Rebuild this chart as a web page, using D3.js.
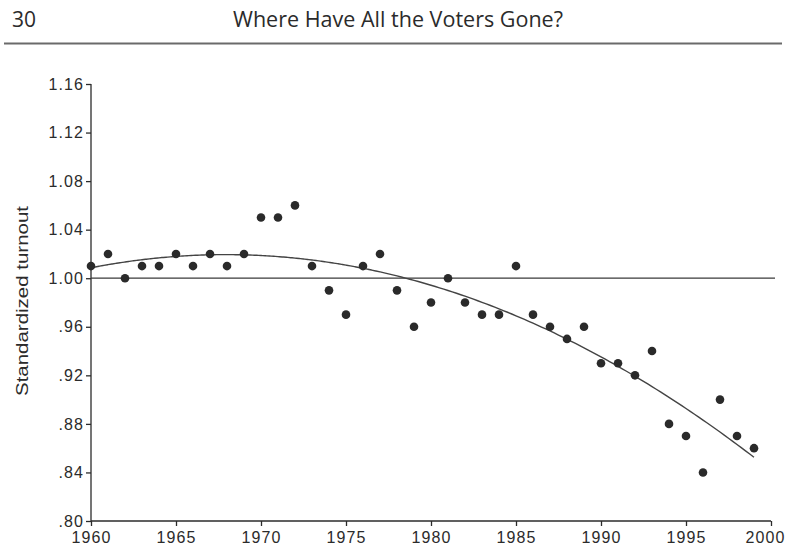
<!DOCTYPE html>
<html>
<head>
<meta charset="utf-8">
<script src="https://cdn.jsdelivr.net/npm/d3@7"></script>
<style>
  html, body { margin: 0; padding: 0; background: #fff; }
  svg { display: block; }
</style>
</head>
<body>
<svg id="chart" width="787" height="553"></svg>
<script>
// Election years and standardized turnout
const years = [1960,1961,1962,1963,1964,1965,1966,1967,1968,1969,
               1970,1971,1972,1973,1974,1975,1976,1977,1978,1979,
               1980,1981,1982,1983,1984,1985,1986,1987,1988,1989,
               1990,1991,1992,1993,1994,1995,1996,1997,1998,1999];
const turnout = [1.01,1.02,1.00,1.01,1.01,1.02,1.01,1.02,1.01,1.02,
                 1.05,1.05,1.06,1.01,0.99,0.97,1.01,1.02,0.99,0.96,
                 0.98,1.00,0.98,0.97,0.97,1.01,0.97,0.96,0.95,0.96,
                 0.93,0.93,0.92,0.94,0.88,0.87,0.84,0.90,0.87,0.86];
const yTicks = [0.80,0.84,0.88,0.92,0.96,1.00,1.04,1.08,1.12,1.16];
const xTicks = [1960,1965,1970,1975,1980,1985,1990,1995,2000];
const pageNumber = "30";
const runningHead = "Where Have All the Voters Gone?";
const yLabel = "Standardized turnout";

const svg = d3.select("#chart");
const ink = "#2b2b2b";
const headFont = "'Open Sans', Lato, sans-serif";
const font = "'Liberation Sans', Arial, sans-serif";

// running head
svg.append("text").attr("x", 12).attr("y", 27)
  .attr("font-family", headFont).attr("font-size", 21)
  .attr("fill", ink).text(pageNumber);
svg.append("text").attr("x", 398).attr("y", 27).attr("text-anchor", "middle")
  .attr("font-family", headFont).attr("font-size", 21)
  .attr("textLength", 330).attr("lengthAdjust", "spacingAndGlyphs")
  .attr("fill", ink).text(runningHead);
svg.append("line").attr("x1", 4).attr("x2", 782).attr("y1", 43.5).attr("y2", 43.5)
  .attr("stroke", "#6a6a6a").attr("stroke-width", 2);

const x = d3.scaleLinear().domain([1960, 2000]).range([91, 771]);
const y = d3.scaleLinear().domain([0.80, 1.16]).range([521, 84]);

const fmt = v => {
  const s = v.toFixed(2);
  return v < 1 ? s.replace(/^0/, "") : s;
};

const gy = svg.append("g").attr("transform", `translate(${x(1960)},0)`)
  .call(d3.axisLeft(y).tickValues(yTicks).tickFormat(fmt).tickSize(5).tickPadding(2));
const gx = svg.append("g").attr("transform", `translate(0,${y(0.80)})`)
  .call(d3.axisBottom(x).tickValues(xTicks).tickFormat(d3.format("d")).tickSize(5).tickPadding(6));
[gx, gy].forEach(g => {
  g.selectAll("path, line").attr("stroke", ink).attr("stroke-width", 1.3);
  g.selectAll("text").attr("font-family", font).attr("font-size", 16)
    .attr("letter-spacing", 1.1).attr("fill", ink);
});
// last year label sits flush with the right edge
gx.selectAll(".tick text").filter(d => d === 2000).attr("dx", -6);
// plain axis lines without end caps
gy.select(".domain").attr("d", `M0,${y(1.16)}V${y(0.80)}`);
gx.select(".domain").attr("d", `M${x(1960)},0H${x(2000)}`);

svg.append("text")
  .attr("transform", `translate(28,301) rotate(-90)`)
  .attr("text-anchor", "middle").attr("font-family", font).attr("font-size", 16.5)
  .attr("textLength", 190).attr("lengthAdjust", "spacingAndGlyphs")
  .attr("fill", ink).text(yLabel);

// reference line at 1.00
svg.append("line").attr("x1", x(1960)).attr("x2", 775)
  .attr("y1", y(1.00)).attr("y2", y(1.00))
  .attr("stroke", "#3a3a3a").attr("stroke-width", 1.3);

// quadratic least-squares trend through the observations
const n = years.length;
const t = years.map(v => v - 1980);
let S = [0,0,0,0,0], T = [0,0,0];
t.forEach((ti, i) => {
  for (let k = 0; k < 5; k++) S[k] += Math.pow(ti, k);
  for (let k = 0; k < 3; k++) T[k] += Math.pow(ti, k) * turnout[i];
});
const M = [[S[0],S[1],S[2]],[S[1],S[2],S[3]],[S[2],S[3],S[4]]];
function solve3(A, b) {
  const a = A.map((r, i) => r.concat([b[i]]));
  for (let c = 0; c < 3; c++) {
    let p = c;
    for (let r = c + 1; r < 3; r++) if (Math.abs(a[r][c]) > Math.abs(a[p][c])) p = r;
    [a[c], a[p]] = [a[p], a[c]];
    for (let r = 0; r < 3; r++) if (r !== c) {
      const f = a[r][c] / a[c][c];
      for (let k = c; k < 4; k++) a[r][k] -= f * a[c][k];
    }
  }
  return a.map((r, i) => r[3] / r[i]);
}
const coef = solve3(M, T);
const fitYears = d3.range(years[0], years[n - 1] + 0.001, 0.25);
const fit = fitYears.map(v => {
  const u = v - 1980;
  return [v, coef[0] + coef[1] * u + coef[2] * u * u];
});
svg.append("path").datum(fit)
  .attr("d", d3.line().x(d => x(d[0])).y(d => y(d[1])).curve(d3.curveBasis))
  .attr("fill", "none").attr("stroke", "#444").attr("stroke-width", 1.4);

// observations
svg.append("g").selectAll("circle").data(years).join("circle")
  .attr("cx", (d) => x(d)).attr("cy", (d, i) => y(turnout[i]))
  .attr("r", 4.3).attr("fill", "#2a2a2a");
</script>
</body>
</html>
